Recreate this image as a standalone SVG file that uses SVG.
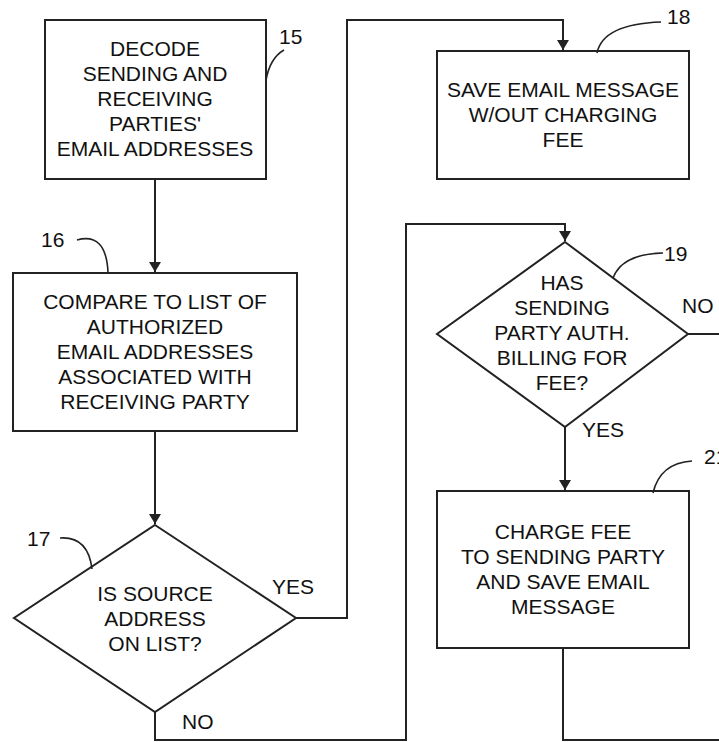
<svg xmlns="http://www.w3.org/2000/svg" width="719" height="742" viewBox="0 0 719 742">
<style>
.b{fill:#fff;stroke:#222;stroke-width:2}
.c{fill:none;stroke:#222;stroke-width:2}
.l{fill:none;stroke:#222;stroke-width:1.6}
text{font-family:"Liberation Sans",Arial,sans-serif;font-size:21px;fill:#111}
.m{text-anchor:middle}
</style>
<defs>
<marker id="ah" viewBox="0 0 10 12" refX="10" refY="6" markerWidth="10" markerHeight="12" markerUnits="userSpaceOnUse" orient="auto">
<path d="M0,0 L10,6 L0,12 z" fill="#222"/>
</marker>
</defs>
<rect width="719" height="742" fill="#fff"/>
<g id="connectors">
<path class="c" d="M155,179 V272" marker-end="url(#ah)"/>
<path class="c" d="M155,431 V524" marker-end="url(#ah)"/>
<path class="c" d="M296,618 H347 V20 H563 V50" marker-end="url(#ah)"/>
<path class="c" d="M155,712 V740 H406 V224 H565 V241" marker-end="url(#ah)"/>
<path class="c" d="M688,334 H719"/>
<path class="c" d="M565,427 V490" marker-end="url(#ah)"/>
<path class="c" d="M563,648 V740 H719"/>
<text x="272" y="594">YES</text>
<text x="182" y="729">NO</text>
<text x="682" y="313">NO</text>
<text x="582" y="437">YES</text>
</g>
<g id="n15">
<rect class="b" x="45" y="20" width="221" height="159"/>
<text class="m" x="155" y="56">DECODE</text>
<text class="m" x="155" y="81">SENDING AND</text>
<text class="m" x="155" y="106">RECEIVING</text>
<text class="m" x="155" y="131">PARTIES'</text>
<text class="m" x="155" y="156">EMAIL ADDRESSES</text>
<path class="l" d="M266,80 Q270,58 284,50"/>
<text x="279" y="44">15</text>
</g>
<g id="n16">
<rect class="b" x="13" y="273" width="284" height="158"/>
<text class="m" x="155" y="309">COMPARE TO LIST OF</text>
<text class="m" x="155" y="334">AUTHORIZED</text>
<text class="m" x="155" y="359">EMAIL ADDRESSES</text>
<text class="m" x="155" y="384">ASSOCIATED WITH</text>
<text class="m" x="155" y="409">RECEIVING PARTY</text>
<path class="l" d="M77,240 Q106,232 108,272"/>
<text x="41" y="247">16</text>
</g>
<g id="n17">
<path class="b" d="M155,525 L296,618 L155,712 L14,618 Z"/>
<text class="m" x="155" y="601">IS SOURCE</text>
<text class="m" x="155" y="626">ADDRESS</text>
<text class="m" x="155" y="651">ON LIST?</text>
<path class="l" d="M60,538 Q88,536 92,569"/>
<text x="27" y="546">17</text>
</g>
<g id="n18">
<rect class="b" x="437" y="51" width="252" height="128"/>
<text class="m" x="563" y="97">SAVE EMAIL MESSAGE</text>
<text class="m" x="563" y="122">W/OUT CHARGING</text>
<text class="m" x="563" y="147">FEE</text>
<path class="l" d="M597,53 Q603,24 661,22"/>
<text x="667" y="24">18</text>
</g>
<g id="n19">
<path class="b" d="M565,242 L688,334 L565,427 L437,334 Z"/>
<text class="m" x="562" y="290">HAS</text>
<text class="m" x="562" y="315">SENDING</text>
<text class="m" x="562" y="340">PARTY AUTH.</text>
<text class="m" x="562" y="365">BILLING FOR</text>
<text class="m" x="562" y="390">FEE?</text>
<path class="l" d="M613,278 Q622,254 663,253"/>
<text x="664" y="261">19</text>
</g>
<g id="n21">
<rect class="b" x="437" y="491" width="252" height="157"/>
<text class="m" x="563" y="539">CHARGE FEE</text>
<text class="m" x="563" y="564">TO SENDING PARTY</text>
<text class="m" x="563" y="589">AND SAVE EMAIL</text>
<text class="m" x="563" y="614">MESSAGE</text>
<path class="l" d="M653,493 Q660,463 692,461"/>
<text x="704" y="464">21</text>
</g>
</svg>
